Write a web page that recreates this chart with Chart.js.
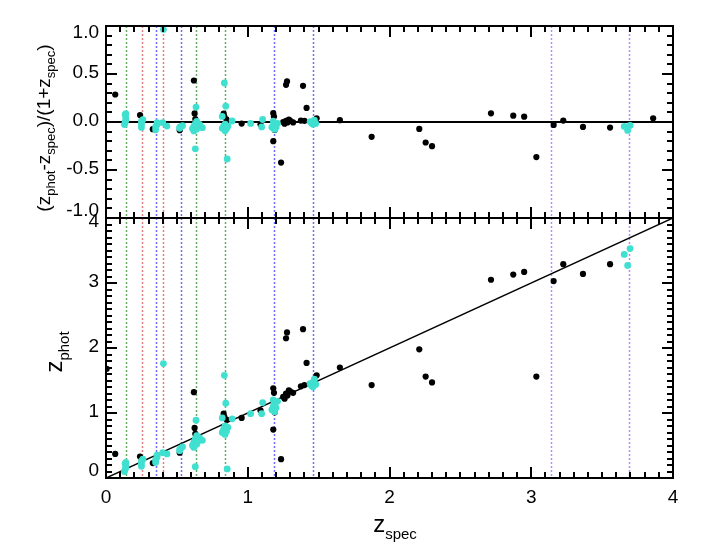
<!DOCTYPE html>
<html>
<head>
<meta charset="utf-8">
<script src="https://cdn.jsdelivr.net/npm/chart.js@4.4.1/dist/chart.umd.min.js"></script>
<style>
  html, body { margin: 0; padding: 0; background: #fff; }
  #wrap { width: 709px; height: 550px; }
</style>
</head>
<body>
<div id="wrap"><canvas id="zchart" width="709" height="550"></canvas></div>
<script>
// redshifts: black = all sources, cyan = selected sample
var blackZspec = [0.005, 0.065, 0.24, 0.33, 0.52, 0.62, 0.625, 0.63, 0.64, 0.66,
                  0.83, 0.835, 0.85, 0.957, 1.09, 1.18, 1.185, 1.18, 1.235, 1.19,
                  1.277, 1.27, 1.39, 1.415, 1.25, 1.27, 1.28, 1.30, 1.26, 1.32,
                  1.29, 1.375, 1.40, 1.486, 1.65, 1.874, 2.21, 2.255, 2.30, 2.716,
                  2.873, 2.95, 3.036, 3.158, 3.226, 3.365, 3.556, 3.86];
var blackZphot = [1.68, 0.37, 0.33, 0.23, 0.39, 1.32, 0.77, 0.68, 0.64, 0.60,
                  0.99, 0.94, 0.90, 0.925, 1.04, 1.38, 1.31, 0.745, 0.29, 1.01,
                  2.24, 2.15, 2.29, 1.77, 1.25, 1.30, 1.27, 1.33, 1.22, 1.31,
                  1.35, 1.41, 1.43, 1.58, 1.70, 1.43, 1.98, 1.56, 1.47, 3.05,
                  3.13, 3.17, 1.56, 3.03, 3.29, 3.14, 3.29, 4.05];

var cyanZspec = [0.13, 0.135, 0.14, 0.14, 0.135, 0.14,
                 0.25, 0.25, 0.25, 0.26,
                 0.35, 0.35, 0.36, 0.36,
                 0.40, 0.43, 0.405,
                 0.52, 0.53, 0.54, 0.52,
                 0.635, 0.63, 0.61, 0.62, 0.63, 0.64, 0.65, 0.66, 0.68, 0.62, 0.64,
                 0.835, 0.845, 0.82, 0.82, 0.83, 0.84, 0.85, 0.86, 0.84, 0.855,
                 0.89, 1.02, 1.098, 1.105,
                 1.17, 1.18, 1.19, 1.20, 1.21, 1.19, 1.18,
                 1.45, 1.46, 1.47, 1.44, 1.48, 1.46,
                 3.656, 3.697, 3.68];
var cyanZphot = [0.10, 0.13, 0.16, 0.19, 0.22, 0.24,
                 0.18, 0.22, 0.26, 0.29,
                 0.24, 0.28, 0.32, 0.35,
                 0.39, 0.37, 1.76,
                 0.42, 0.46, 0.48, 0.44,
                 0.89, 0.175, 0.50, 0.55, 0.60, 0.52, 0.57, 0.62, 0.58, 0.47, 0.65,
                 1.58, 1.15, 0.925, 0.70, 0.75, 0.80, 0.72, 0.78, 0.67, 0.14,
                 0.91, 0.99, 0.99, 1.16,
                 1.05, 1.10, 1.15, 1.08, 1.18, 1.02, 1.20,
                 1.42, 1.47, 1.52, 1.45, 1.44, 1.40,
                 3.44, 3.53, 3.27];

// redshifts marked by the dashed vertical lines
var greenLines = [0.139, 0.635, 0.84];
var redLines = [0.252, 0.405];
var blueLines = [0.35, 0.527, 1.188, 1.463];
var purpleLines = [3.142, 3.69];

var xTicks = [0, 1, 2, 3, 4];
var resTicks = [-1.0, -0.5, 0.0, 0.5, 1.0];
var photTicks = [0, 1, 2, 3, 4];

function toPoints(zs, zp) {
	var pts = [];
	for (var i in zs) pts.push({x: zs[i], y: zp[i]});
	return pts;
}
function toResiduals(zs, zp) {
	var pts = [];
	for (var i in zs) pts.push({x: zs[i], y: (zp[i] - zs[i]) / (1 + zs[i])});
	return pts;
}

var FONT = '"Liberation Sans", Arial, sans-serif';
var CYAN = 'rgb(64,224,208)';

// draws text with subscripts, centred on (cx, cy), optionally rotated
function drawSubText(ctx, parts, cx, cy, rot, mainSize, subSize, drop) {
	ctx.save();
	ctx.translate(cx, cy);
	ctx.rotate(rot);
	var w = 0;
	parts.forEach(function(p) {
		ctx.font = (p[1] ? subSize : mainSize) + 'px ' + FONT;
		w += ctx.measureText(p[0]).width;
	});
	var x = -w / 2;
	ctx.fillStyle = '#000';
	ctx.textBaseline = 'alphabetic';
	ctx.textAlign = 'left';
	parts.forEach(function(p) {
		ctx.font = (p[1] ? subSize : mainSize) + 'px ' + FONT;
		ctx.fillText(p[0], x, p[1] ? drop : 0);
		x += ctx.measureText(p[0]).width;
	});
	ctx.restore();
}

var markerLines = {
	id: 'markerLines',
	beforeDatasetsDraw: function(chart) {
		var c = chart.ctx, xs = chart.scales.x, a = chart.chartArea;
		var groups = [
			[greenLines, 'rgba(60,150,60,0.8)'],
			[redLines, 'rgba(215,95,95,0.8)'],
			[blueLines, 'rgba(70,70,255,0.8)'],
			[purpleLines, 'rgba(165,110,255,0.8)']
		];
		c.save();
		c.lineWidth = 1.5;
		c.setLineDash([2, 2]);
		groups.forEach(function(g) {
			c.strokeStyle = g[1];
			g[0].forEach(function(z) {
				var px = Math.round(xs.getPixelForValue(z)) + 0.5;
				c.beginPath();
				c.moveTo(px, a.top);
				c.lineTo(px, a.bottom);
				c.stroke();
			});
		});
		c.restore();
	}
};

var frames = {
	id: 'frames',
	afterDraw: function(chart) {
		var c = chart.ctx, xs = chart.scales.x;
		var panels = [
			{s: chart.scales.yTop, lo: -1, hi: 1, major: 5},
			{s: chart.scales.yBot, lo: 0, hi: 4, major: 10}
		];
		c.save();
		c.setLineDash([]);
		c.globalAlpha = 1;
		c.strokeStyle = '#000';
		c.fillStyle = '#000';
		panels.forEach(function(p) {
			var top = p.s.top, bot = p.s.bottom, l = xs.left, r = xs.right;
			// inward ticks, every 0.1
			for (var k = 0; k <= 40; k++) {
				var px = Math.round(xs.getPixelForValue(k / 10));
				var len = (k % 10 === 0) ? 11 : 6;
				c.fillRect(px - 1, bot - len, 2, len);
				c.fillRect(px - 1, top, 2, len);
			}
			var n = Math.round((p.hi - p.lo) * 10);
			for (var j = 0; j <= n; j++) {
				var py = Math.round(p.s.getPixelForValue(p.lo + j / 10));
				var ln = (j % p.major === 0) ? 11 : 6;
				c.fillRect(l, py - 1, ln, 2);
				c.fillRect(r - ln, py - 1, ln, 2);
			}
			c.lineWidth = 2;
			c.strokeRect(l, top, r - l, bot - top);
		});

		// tick labels
		c.font = '19px ' + FONT;
		c.textAlign = 'right';
		c.textBaseline = 'middle';
		resTicks.forEach(function(v, i) {
			var py = chart.scales.yTop.getPixelForValue(v);
			if (i === resTicks.length - 1) py += 8;
			if (i === 0) py -= 6;
			c.fillText(v.toFixed(1), 99, py - 1);
		});
		photTicks.forEach(function(v, i) {
			var py = chart.scales.yBot.getPixelForValue(v);
			if (i === photTicks.length - 1) py += 5;
			if (i === 0) py -= 6;
			c.fillText(String(v), 99, py - 1);
		});
		c.textAlign = 'center';
		c.textBaseline = 'top';
		xTicks.forEach(function(v) {
			c.fillText(String(v), xs.getPixelForValue(v), 488);
		});

		// axis titles
		drawSubText(c, [['z', 0], ['spec', 1]], 395, 532, 0, 24, 15, 7);
		drawSubText(c, [['z', 0], ['phot', 1]], 62, 352, -Math.PI / 2, 24, 15, 7);
		drawSubText(c, [['(z', 0], ['phot', 1], ['-z', 0], ['spec', 1], [')/(1+z', 0], ['spec', 1], [')', 0]],
			50, 128, -Math.PI / 2, 19, 13, 5);
		c.restore();
	}
};

var canvas = document.getElementById('zchart');

var zChart = new Chart(canvas, {
	type: 'scatter',
	data: {
		datasets: [
			{ label: 'selected', data: toPoints(cyanZspec, cyanZphot), yAxisID: 'yBot',
			  backgroundColor: CYAN, borderWidth: 0, pointRadius: 3.4, clip: 0 },
			{ label: 'selected res', data: toResiduals(cyanZspec, cyanZphot), yAxisID: 'yTop',
			  backgroundColor: CYAN, borderWidth: 0, pointRadius: 3.4, clip: 0 },
			{ label: 'all', data: toPoints(blackZspec, blackZphot), yAxisID: 'yBot',
			  backgroundColor: '#000', borderWidth: 0, pointRadius: 3.1, clip: 0 },
			{ label: 'all res', data: toResiduals(blackZspec, blackZphot), yAxisID: 'yTop',
			  backgroundColor: '#000', borderWidth: 0, pointRadius: 3.1, clip: 0 },
			{ type: 'line', label: 'one to one', data: [{x: 0, y: 0}, {x: 4, y: 4}], yAxisID: 'yBot',
			  borderColor: '#000', borderWidth: 1.5, pointRadius: 0, fill: false },
			{ type: 'line', label: 'zero', data: [{x: 0, y: 0}, {x: 4, y: 0}], yAxisID: 'yTop',
			  borderColor: '#000', borderWidth: 2.2, pointRadius: 0, fill: false }
		]
	},
	options: {
		responsive: false,
		animation: false,
		devicePixelRatio: 1,
		layout: { padding: { left: 106, right: 36, top: 26, bottom: 72 } },
		plugins: { legend: { display: false }, tooltip: { enabled: false } },
		scales: {
			x: {
				type: 'linear', min: 0, max: 4,
				grid: { display: false }, border: { display: false },
				ticks: { display: false },
				afterFit: function(s) { s.height = 0; }
			},
			yBot: {
				type: 'linear', position: 'left', min: 0, max: 4,
				stack: 'panels', stackWeight: 260,
				grid: { display: false }, border: { display: false },
				ticks: { display: false },
				afterFit: function(s) { s.width = 0; }
			},
			yTop: {
				type: 'linear', position: 'left', min: -1, max: 1,
				stack: 'panels', stackWeight: 192,
				grid: { display: false }, border: { display: false },
				ticks: { display: false },
				afterFit: function(s) { s.width = 0; }
			}
		}
	},
	plugins: [markerLines, frames]
});
</script>
</body>
</html>
